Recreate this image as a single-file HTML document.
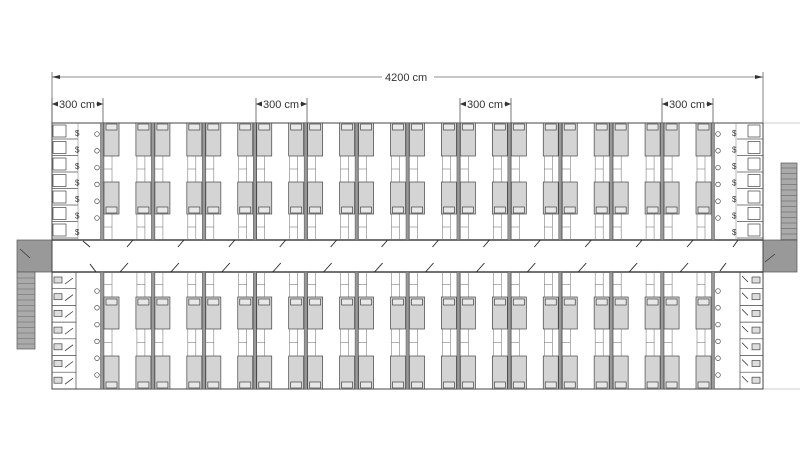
<!DOCTYPE html>
<html><head><meta charset="utf-8"><style>
html,body{margin:0;padding:0;background:#fff;width:800px;height:449px;overflow:hidden}
svg{display:block}
text{font-family:"Liberation Sans",sans-serif;font-size:11px;fill:#333}
</style></head><body>
<svg id="s" width="800" height="449" viewBox="0 0 800 449" xmlns="http://www.w3.org/2000/svg">
<g id="g"></g>
<!-- dimensions -->
<g stroke="#666" stroke-width="0.8" fill="none">
<line x1="52" y1="77" x2="763" y2="77"/>
<line x1="52" y1="72" x2="52" y2="123"/><line x1="763" y1="72" x2="763" y2="123"/>
</g>
<rect x="382" y="70" width="52" height="14" fill="#fff"/>
<text x="385" y="81">4200 cm</text>
<g id="dims"></g>
</svg>
<script>
const g=document.getElementById('g');let h='';
function R(x,y,w,hh,f,s,sw){h+=`<rect x="${x}" y="${y}" width="${w}" height="${hh}" fill="${f||'none'}" stroke="${s||'#444'}" stroke-width="${sw||0.7}"/>`;}
function L(a,b,c,d,s,w){h+=`<line x1="${a}" y1="${b}" x2="${c}" y2="${d}" stroke="${s||'#444'}" stroke-width="${w||0.7}"/>`;}
function C(x,y,r){h+=`<circle cx="${x}" cy="${y}" r="${r}" fill="#fff" stroke="#444" stroke-width="0.7"/>`;}
// extension lines right
L(763,123,800,123,'#bbb');L(763,389,800,389,'#bbb');
// stairs
R(17,240,35,32,'#999','#555');R(17,272,18,77,'#aaa','#555');
for(let y=278;y<349;y+=5.5)L(17,y,35,y,'#666',0.6);
R(763,240,34,32,'#999','#555');R(781,163,16,77,'#aaa','#555');
for(let y=168;y<240;y+=5.5)L(781,y,797,y,'#666',0.6);
L(20,249,30,258,'#333');L(765,262,775,254,'#333');
// building outline
R(52,123,711,266,'#fff','#444',1);
L(52,240,763,240,'#444',1.4);L(52,272,763,272,'#444',1.4);
const W=(713-102)/12;
for(let k=0;k<=12;k++){const x=102+k*W;
 R(x-1.5,123,3,117,'#999','#555',0.5);R(x-1.5,272,3,117,'#999','#555',0.5);}
for(let k=0;k<12;k++){const x0=102+k*W,x1=x0+W;
 for(const bx of [x0+2,x1-17]){
  // top block
  R(bx,123,15,33,'#d4d4d4');R(bx+2,124,11,6,'#e8e8e8');
  R(bx,182,15,32,'#d4d4d4');R(bx+2,207,11,6,'#e8e8e8');
  // bottom block
  R(bx,297,15,32,'#d4d4d4');R(bx+2,299,11,6,'#e8e8e8');
  R(bx,356,15,33,'#d4d4d4');R(bx+2,382,11,6,'#e8e8e8');
 }
 for(const lx of [x0+2,x1-16]){
  for(const [a,b] of [[156,182],[214,240],[272,297],[329,356]]){
   L(lx,a,lx,b,'#666',0.5);L(lx+8,a,lx+8,b,'#666',0.5);L(lx,(a+b)/2,lx+8,(a+b)/2,'#666',0.5);}
 }
 L(x0+25,247,x0+31,240,'#222',0.9);L(x0+18,272,x0+26,263,'#222',0.9);
}
// left zone lines in corridor
L(83,241,90,247,'#222',0.9);L(90,264,96,272,'#222',0.9);
L(733,247,738,240,'#222',0.9);L(720,271,726,263,'#222',0.9);
// left washroom top
for(let i=0;i<7;i++){const y=124+i*16.5;R(53,y+1,13,12,'#fff');L(52,y+15,78,y+15,'#555');
 h+=`<text x="75" y="${y+12}" style="font-size:8px">$</text>`;}
L(78,123,78,240,'#777',0.5);
for(let i=0;i<6;i++)C(97,134+i*16.8,2.3);
// left washroom bottom
L(76,272,76,389,'#444');
for(let i=0;i<7;i++){const y=272+i*16.7;L(52,y,76,y,'#444');R(54,y+5,8,6,'#ddd');L(65,y+12,73,y+6,'#222');}
for(let i=0;i<6;i++)C(97,291+i*16.8,2.3);
// right washroom top
L(736,123,736,240,'#777',0.5);
for(let i=0;i<7;i++){const y=124+i*16.5;R(748,y+1,12,12,'#fff');L(737,y+15,763,y+15,'#555');
 h+=`<text x="732" y="${y+12}" style="font-size:8px">$</text>`;}
for(let i=0;i<6;i++)C(718,134+i*16.8,2.3);
// right washroom bottom
L(740,272,740,389,'#444');
for(let i=0;i<7;i++){const y=272+i*16.7;L(740,y,763,y,'#444');R(752,y+5,8,6,'#ddd');L(742,y+4,748,y+10,'#222');}
for(let i=0;i<6;i++)C(718,291+i*16.8,2.3);
g.innerHTML=h;
let d='';
for(const x of [52,256,460,662]){
 d+=`<g stroke="#555" stroke-width="0.8"><line x1="${x}" y1="104" x2="${x+51}" y2="104"/><line x1="${x}" y1="98" x2="${x}" y2="123"/><line x1="${x+51}" y1="98" x2="${x+51}" y2="123"/></g>`;
 d+=`<polygon points="${x},104 ${x+6},101.5 ${x+6},106.5" fill="#333"/><polygon points="${x+51},104 ${x+45},101.5 ${x+45},106.5" fill="#333"/>`;
 d+=`<rect x="${x+6}" y="98" width="38" height="12" fill="#fff"/><text x="${x+7}" y="108">300 cm</text>`;
}
d+=`<polygon points="52,77 60,75 60,79" fill="#333"/><polygon points="763,77 755,75 755,79" fill="#333"/>`;
document.getElementById('dims').innerHTML=d;
</script>
</body></html>
